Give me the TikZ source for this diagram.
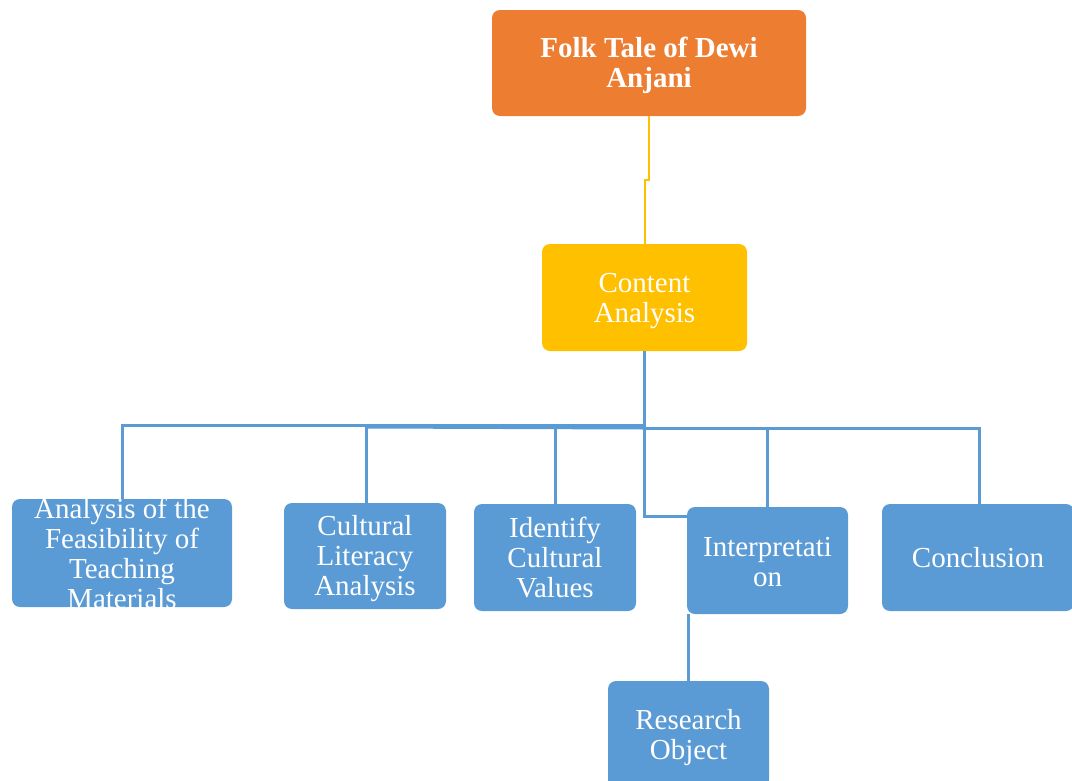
\documentclass[tikz,border=0pt]{standalone}
\usepackage{fontspec}
\setmainfont{Liberation Serif}
\definecolor{orangebox}{HTML}{ED7D31}
\definecolor{yellowbox}{HTML}{FFC000}
\definecolor{bluebox}{HTML}{5B9BD5}
\begin{document}
\begin{tikzpicture}[x=1pt,y=-1pt,
  box/.style={rounded corners=8pt, inner sep=0pt, draw=none},
  txt/.style={text=white, font=\fontsize{29}{30}\selectfont, align=center, inner sep=0pt},
  bline/.style={draw=bluebox, line width=3pt},
  yline/.style={draw=yellowbox, line width=2.5pt}]
\useasboundingbox (0,0) rectangle (1072,780);
% boxes
\node[box, fill=orangebox, minimum width=314pt, minimum height=106pt] (folk) at (649,63) {};
\node[txt, font=\fontsize{29}{30}\selectfont\bfseries] at ([yshift=-2pt]folk.center) {Folk Tale of Dewi\\Anjani};
\node[box, fill=yellowbox, minimum width=205pt, minimum height=107pt] (content) at (644.5,297.5) {};
\node[txt] at ([yshift=-4pt]content.center) {Content\\Analysis};
\node[box, fill=bluebox, minimum width=220pt, minimum height=108pt] (ana) at (122,553) {};
\node[txt] at (ana.center) {Analysis of the\\Feasibility of\\Teaching\\Materials};
\node[box, fill=bluebox, minimum width=162pt, minimum height=106pt] (cult) at (365,556) {};
\node[txt] at ([yshift=-3pt]cult.center) {Cultural\\Literacy\\Analysis};
\node[box, fill=bluebox, minimum width=162pt, minimum height=107pt] (ident) at (555,557.5) {};
\node[txt] at (ident.center) {Identify\\Cultural\\Values};
\node[box, fill=bluebox, minimum width=161pt, minimum height=107pt] (interp) at (767.5,560.5) {};
\node[txt] at ([yshift=-2pt]interp.center) {Interpretati\\on};
\node[box, fill=bluebox, minimum width=192pt, minimum height=107pt] (concl) at (978,557.5) {};
\node[txt] at (concl.center) {Conclusion};
\node[box, fill=bluebox, minimum width=161pt, minimum height=107pt] (res) at (688.5,734.5) {};
\node[txt] at ([yshift=-3pt]res.center) {Research\\Object};
% coordinates
\coordinate (y1) at (649,180);
\coordinate (y2) at (645,180);
\coordinate (hub) at (644,425);
\coordinate (hl) at (122,425);
\coordinate (hc) at (366,427);
\coordinate (hi) at (555,425);
\coordinate (hd) at (644,516);
\coordinate (hr) at (979,428);
\coordinate (hint) at (767,428);
\coordinate (hmid) at (644,428);
% connectors
\draw[yline] (folk.south) -- (y1) -- (y2) -- (content.north -| y2);
\draw[bline] (content.south -| hub) -- (hub);
\draw[bline] (hub) -- (hl) -- (ana.north -| hl);
\draw[bline] (hc) -- (hmid);
\draw[bline] (hc) -- (cult.north -| hc);
\draw[bline] (hi) -- (ident.north -| hi);
\draw[bline] (hub) -- (hd) -- (hd -| interp.west);
\draw[bline] (hmid) -- (hr) -- ([yshift=-3pt]concl.north -| hr);
\draw[bline] (hint) -- (interp.north -| hint);
\draw[bline] (interp.south -| res.north) -- ([yshift=-4pt]res.north);
\end{tikzpicture}
\end{document}
